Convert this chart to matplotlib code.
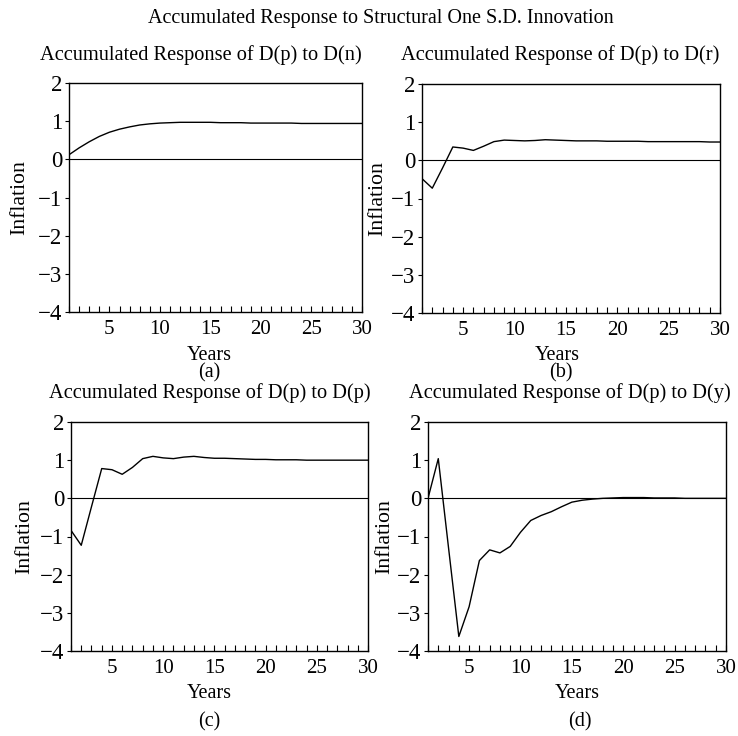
import matplotlib
matplotlib.use("Agg")
import matplotlib.pyplot as plt

plt.rcParams['font.family'] = ['Liberation Serif', 'DejaVu Serif']
plt.rcParams['axes.unicode_minus'] = True

years = list(range(1, 31))

resp_n = [0.12, 0.30, 0.46, 0.60, 0.71, 0.79, 0.85, 0.90, 0.93, 0.95,
          0.96, 0.97, 0.97, 0.97, 0.97, 0.96, 0.96, 0.96, 0.95, 0.95,
          0.95, 0.95, 0.95, 0.94, 0.94, 0.94, 0.94, 0.94, 0.94, 0.94]
resp_r = [-0.48, -0.73, -0.20, 0.35, 0.32, 0.26, 0.37, 0.49, 0.53, 0.52,
          0.51, 0.52, 0.54, 0.53, 0.52, 0.51, 0.51, 0.51, 0.50, 0.50,
          0.50, 0.50, 0.49, 0.49, 0.49, 0.49, 0.49, 0.49, 0.48, 0.48]
resp_p = [-0.84, -1.23, -0.22, 0.78, 0.75, 0.63, 0.81, 1.04, 1.10, 1.06,
          1.04, 1.08, 1.10, 1.07, 1.05, 1.05, 1.04, 1.03, 1.02, 1.02,
          1.01, 1.01, 1.01, 1.00, 1.00, 1.00, 1.00, 1.00, 1.00, 1.00]
resp_y = [0.00, 1.04, -1.30, -3.62, -2.84, -1.63, -1.35, -1.43, -1.26, -0.89,
          -0.58, -0.45, -0.35, -0.22, -0.10, -0.05, -0.02, 0.00, 0.01, 0.02,
          0.02, 0.02, 0.01, 0.01, 0.01, 0.00, 0.00, 0.00, 0.00, 0.00]

series = [resp_n, resp_r, resp_p, resp_y]
titles = ["Accumulated Response of D(p) to D(n)",
          "Accumulated Response of D(p) to D(r)",
          "Accumulated Response of D(p) to D(p)",
          "Accumulated Response of D(p) to D(y)"]
panel_labels = ["(a)", "(b)", "(c)", "(d)"]
yticks = [2, 1, 0, -1, -2, -3, -4]
xlabels_at = [5, 10, 15, 20, 25, 30]

W, H = 738, 736
fig = plt.figure(figsize=(W / 100, H / 100), dpi=100)

# pixel boxes: left, right, top, bottom
boxes = [(69, 362, 83, 312), (422, 720, 84, 313),
         (71, 368, 422, 651), (428, 726, 422, 651)]
title_pos = [(201, 55), (560, 55), (210, 393), (570, 393)]
ylab_x = [20, 378, 25, 385]
years_pos = [(209, 355), (557, 355), (209, 694), (577, 694)]
plab_pos = [(209, 373), (561, 373), (209, 722), (580, 722)]

for i in range(4):
    l, r, t, b = boxes[i]
    ax = fig.add_axes([l / W, 1 - b / H, (r - l) / W, (b - t) / H])
    ax.plot(years, series[i], color='black', lw=1.0)
    ax.axhline(0, color='black', lw=0.8)
    ax.set_xlim(1, 30)
    ax.set_ylim(-4, 2)
    ax.set_yticks(yticks)
    ax.set_yticklabels([str(v).replace('-', '\u2212') for v in yticks])
    ax.set_xticks(years)
    ax.set_xticklabels([str(v) if v in xlabels_at else '' for v in years])
    ax.tick_params(axis='x', direction='in', length=4, width=0.8,
                   labelsize=15, pad=6, top=False)
    ax.tick_params(axis='y', direction='out', length=3, width=0.8,
                   labelsize=16.5, pad=2, right=False)
    for s in ax.spines.values():
        s.set_linewidth(1.0)
        s.set_color('black')
    fig.text(title_pos[i][0] / W, 1 - title_pos[i][1] / H, titles[i],
             ha='center', va='center', fontsize=14.7)
    fig.text(ylab_x[i] / W, 1 - ((t + b) / 2) / H, "Inflation",
             ha='center', va='center', rotation=90, fontsize=15.7)
    fig.text(years_pos[i][0] / W, 1 - years_pos[i][1] / H, "Years",
             ha='center', va='center', fontsize=14.5)
    fig.text(plab_pos[i][0] / W, 1 - plab_pos[i][1] / H, panel_labels[i],
             ha='center', va='center', fontsize=14.5)

fig.text(381 / W, 1 - 18 / H,
         "Accumulated Response to Structural One S.D. Innovation",
         ha='center', va='center', fontsize=14.5)

fig.savefig("out.png", dpi=100, facecolor='white')
